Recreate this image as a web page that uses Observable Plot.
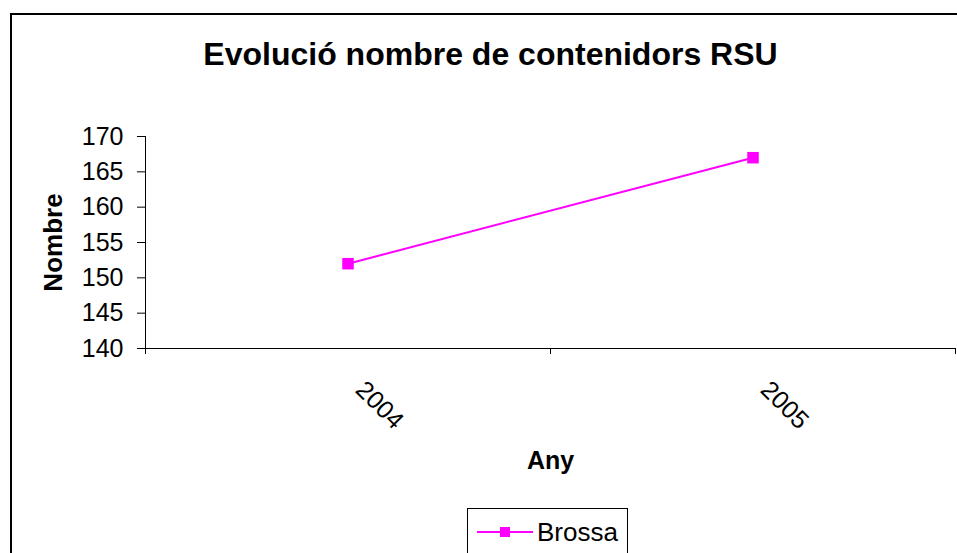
<!DOCTYPE html>
<html>
<head>
<meta charset="utf-8">
<script src="https://cdn.jsdelivr.net/npm/d3@7"></script>
<script src="https://cdn.jsdelivr.net/npm/@observablehq/plot@0.6"></script>
<style>
  html, body { margin: 0; padding: 0; background: #fff; }
  #wrap { position: relative; width: 957px; height: 553px; overflow: hidden; background: #fff;
          font-family: "Liberation Sans", Arial, sans-serif; }
  #frame { position: absolute; left: 10px; top: 13px; width: 1000px; height: 700px;
           border: 2px solid #000; box-sizing: border-box; }
  #chart { position: absolute; left: 0; top: 0; }
  #legend { position: absolute; left: 467px; top: 508px; width: 161px; height: 80px;
            border: 1px solid #000; box-sizing: border-box; background: #fff; }
  #legend svg { position: absolute; left: 8px; top: 14px; }
  #legend span { position: absolute; left: 69px; top: 8px; font-size: 26px; line-height: 30px; color: #000; }
</style>
</head>
<body>
<div id="wrap">
  <div id="frame"></div>
  <div id="chart"></div>
  <div id="legend"></div>
</div>
<script>
const title = "Evolució nombre de contenidors RSU";
const yTitle = "Nombre";
const xTitle = "Any";
const seriesName = "Brossa";
const years = [2004, 2005];
const brossa = [152, 167];
const yTicks = [140, 145, 150, 155, 160, 165, 170];
const color = "#FF00FF";

const data = years.map((y, i) => ({year: y, value: brossa[i]}));
const xMin = years[0] - 0.5, xMax = years[years.length - 1] + 0.5;
const boundaries = d3.range(xMin, xMax + 0.01, 1);

const plot = Plot.plot({
  width: 957,
  height: 553,
  marginLeft: 145,
  marginRight: 2,
  marginTop: 136,
  marginBottom: 205,
  style: {fontFamily: "'Liberation Sans', Arial, sans-serif", fontSize: "25px", color: "#000", background: "transparent", overflow: "visible"},
  x: {domain: [xMin, xMax]},
  y: {domain: [140, 170]},
  marks: [
    Plot.axisY({ticks: yTicks, tickSize: 8, tickPadding: 14, fontSize: 25, label: null, stroke: "#000"}),
    Plot.axisX({ticks: boundaries, tickSize: 6, tickFormat: () => "", label: null, stroke: "#000"}),
    Plot.ruleY([140], {stroke: "#000", strokeWidth: 1}),
    Plot.ruleX([xMin], {y1: 140, y2: 170, stroke: "#000", strokeWidth: 1}),
    Plot.line(data, {x: "year", y: "value", stroke: color, strokeWidth: 2}),
    Plot.dot(data, {x: "year", y: "value", symbol: "square", r: 6.5, fill: color, stroke: null}),
    Plot.text(data, {x: "year", y: () => 140, text: d => String(d.year), rotate: 45, textAnchor: "start", lineAnchor: "middle", dx: 12, dy: 37, fontSize: 25, fill: "#000"}),
    Plot.text([title], {frameAnchor: "top", dy: -82, lineAnchor: "middle", fontSize: 32, fontWeight: "bold", fill: "#000", dx: -60}),
    Plot.text([yTitle], {frameAnchor: "left", dx: -92, rotate: -90, textAnchor: "middle", lineAnchor: "middle", fontSize: 26, fontWeight: "bold", fill: "#000"}),
    Plot.text([xTitle], {frameAnchor: "bottom", dy: 112, lineAnchor: "middle", fontSize: 25, fontWeight: "bold", fill: "#000"})
  ]
});
document.getElementById("chart").appendChild(plot);

// legend
const leg = document.getElementById("legend");
const sw = d3.create("svg").attr("width", 58).attr("height", 18);
sw.append("line").attr("x1", 1).attr("x2", 57).attr("y1", 9).attr("y2", 9).attr("stroke", color).attr("stroke-width", 2);
sw.append("rect").attr("x", 24).attr("y", 4).attr("width", 10).attr("height", 10).attr("fill", color);
leg.appendChild(sw.node());
const sp = document.createElement("span");
sp.textContent = seriesName;
leg.appendChild(sp);
</script>
</body>
</html>
